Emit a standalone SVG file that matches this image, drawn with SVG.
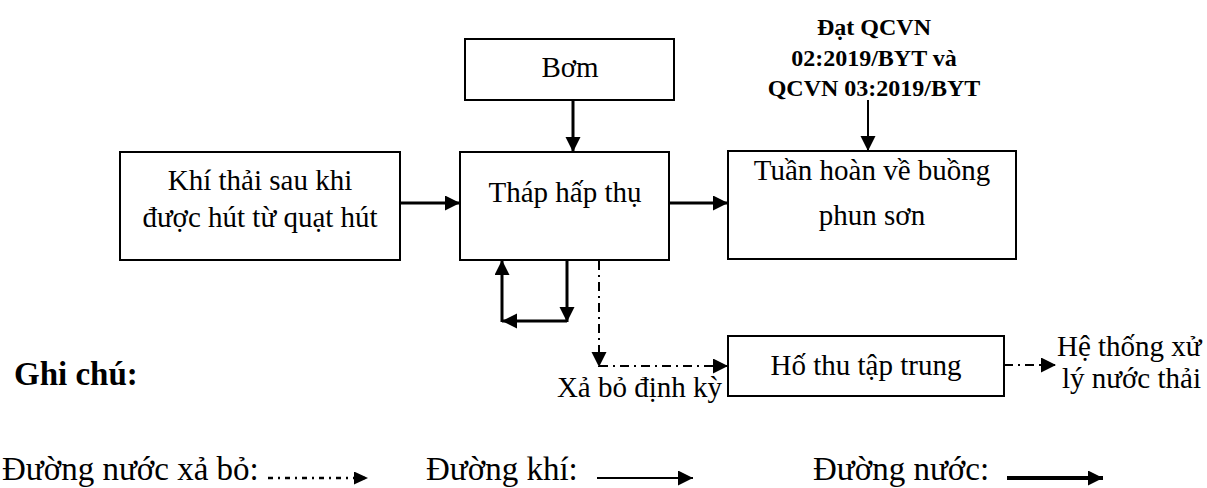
<svg xmlns="http://www.w3.org/2000/svg" width="1207" height="488" viewBox="0 0 1207 488">
<style>
.box{fill:#fff;stroke:#000;stroke-width:2}
.t{font-family:"Liberation Serif","Times New Roman",serif;font-size:29px;fill:#000}
.c{text-anchor:middle}
.b{font-weight:bold}
.lg{font-size:33px}
.ln{fill:none;stroke:#000;stroke-width:3}
.thin{fill:none;stroke:#000;stroke-width:2}
.dd{fill:none;stroke:#000;stroke-width:2;stroke-dasharray:9 5 2 5}
</style>
<defs>
<marker id="ah" markerUnits="userSpaceOnUse" markerWidth="16" markerHeight="16" refX="15" refY="7.5" orient="auto"><path d="M0,0 L15,7.5 L0,15 z" fill="#000"/></marker>
<marker id="ahs" markerUnits="userSpaceOnUse" markerWidth="16" markerHeight="16" refX="14" refY="6.5" orient="auto"><path d="M0,0 L14,6.5 L0,13 z" fill="#000"/></marker>
</defs>
<g id="connectors">
<line class="ln" x1="400" y1="203" x2="460" y2="203" marker-end="url(#ah)"/>
<line class="ln" x1="573" y1="100" x2="573" y2="152" marker-end="url(#ah)"/>
<line class="ln" x1="669" y1="203" x2="728" y2="203" marker-end="url(#ah)"/>
<line class="thin" x1="868" y1="100" x2="868" y2="151" marker-end="url(#ah)"/>
<line class="ln" x1="567" y1="260" x2="567" y2="322" marker-end="url(#ah)"/>
<line class="ln" x1="567" y1="321" x2="502" y2="321" marker-end="url(#ah)"/>
<line class="ln" x1="502" y1="322" x2="502" y2="260" marker-end="url(#ah)"/>
<line class="dd" x1="599" y1="261" x2="599" y2="367" marker-end="url(#ah)"/>
<line class="dd" x1="599" y1="366" x2="728" y2="366" marker-end="url(#ah)"/>
<line class="dd" x1="1004" y1="365" x2="1056" y2="365" marker-end="url(#ah)"/>
</g>
<g id="khi-thai"><rect class="box" x="120" y="152" width="280" height="108"/>
<text class="t c" x="260" y="190">Khí thải sau khi</text>
<text class="t c" x="260" y="227">được hút từ quạt hút</text></g>
<g id="thap"><rect class="box" x="460" y="152" width="209" height="108"/>
<text class="t c" x="565" y="202">Tháp hấp thụ</text></g>
<g id="bom"><rect class="box" x="465" y="39" width="209" height="61"/>
<text class="t c" x="570" y="77">Bơm</text></g>
<g id="tuan-hoan"><rect class="box" x="728" y="151" width="288" height="108"/>
<text class="t c" x="872" y="180">Tuần hoàn về buồng</text>
<text class="t c" x="872" y="225">phun sơn</text></g>
<g id="qcvn">
<text class="t c b" style="font-size:24px" x="874" y="35">Đạt QCVN</text>
<text class="t c b" style="font-size:24px" x="874" y="66">02:2019/BYT và</text>
<text class="t c b" style="font-size:24px" x="874" y="96">QCVN 03:2019/BYT</text></g>
<g id="ho-thu"><rect class="box" x="728" y="336" width="276" height="60"/>
<text class="t c" x="866" y="375">Hố thu tập trung</text></g>
<g id="xa-bo"><text class="t" x="722" y="397" text-anchor="end">Xả bỏ định kỳ</text></g>
<g id="he-thong"><text class="t" x="1057" y="356">Hệ thống xử</text>
<text class="t" x="1062" y="388">lý nước thải</text></g>
<g id="legend">
<text class="t b" style="font-size:33px" x="14" y="385">Ghi chú:</text>
<text class="t lg" x="2" y="480">Đường nước xả bỏ:</text>
<line fill="none" stroke="#000" stroke-width="2.5" stroke-dasharray="5 5 2 5" x1="268" y1="478" x2="368" y2="478" marker-end="url(#ahs)"/>
<text class="t lg" x="426" y="480">Đường khí:</text>
<line class="thin" x1="597" y1="478" x2="693" y2="478" marker-end="url(#ah)"/>
<text class="t lg" x="813" y="480">Đường nước:</text>
<line fill="none" stroke="#000" stroke-width="4" x1="1007" y1="478" x2="1103" y2="478" marker-end="url(#ah)"/>
</g>
</svg>
